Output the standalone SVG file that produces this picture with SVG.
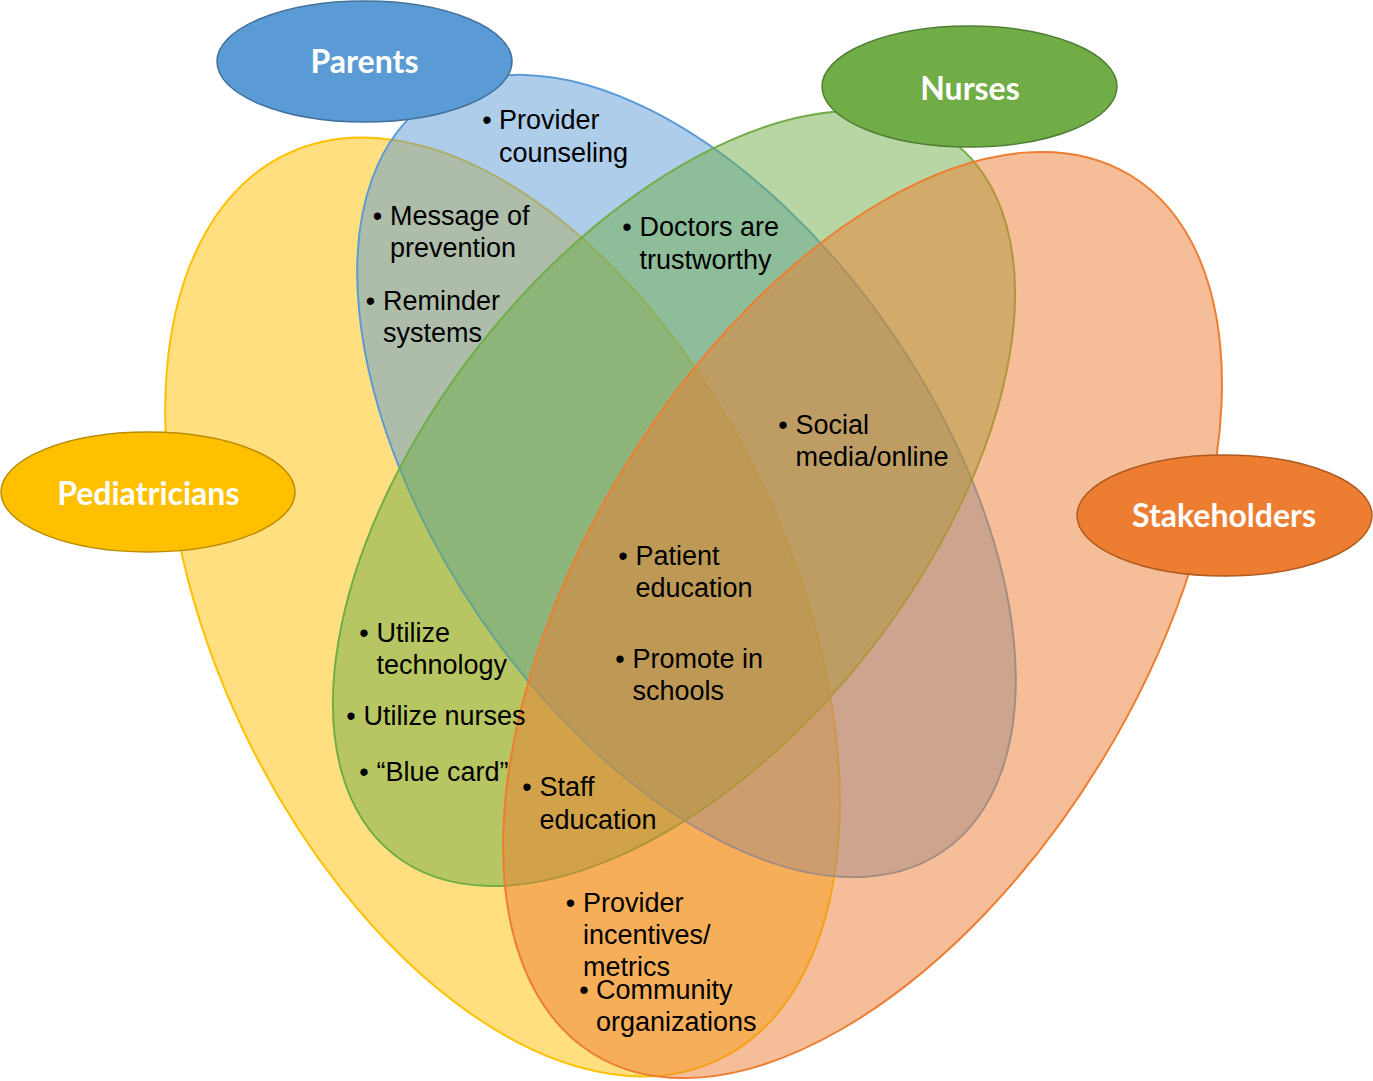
<svg xmlns="http://www.w3.org/2000/svg" width="1373" height="1081" viewBox="0 0 1373 1081">
<style>
.set{stroke-width:2}
.t{font-family:"Liberation Sans",Arial,sans-serif;font-size:27px;fill:#000}
.b{font-family:"Liberation Sans",Arial,sans-serif;font-size:27px;fill:#000;text-anchor:middle}
.lab{font-family:Lato,"Open Sans",sans-serif;font-weight:bold;font-size:32px;fill:#fff;text-anchor:middle}
.lbl{stroke-width:1.5}
</style>
<rect width="1373" height="1081" fill="#fff"/>
<g id="sets">
<g id="set-pediatricians"><ellipse class="set" cx="0" cy="0" rx="501.7" ry="287.1" transform="translate(502.5,607) rotate(64.5)" fill="#FFC000" fill-opacity="0.5" stroke="#FFC000"/></g>
<g id="set-parents"><ellipse class="set" cx="0" cy="0" rx="454.6" ry="250.4" transform="translate(686.5,476) rotate(55.7)" fill="#5B9BD5" fill-opacity="0.5" stroke="#5B9BD5"/></g>
<g id="set-nurses"><ellipse class="set" cx="0" cy="0" rx="452.9" ry="247.6" transform="translate(674,498.5) rotate(-51.8)" fill="#70AD47" fill-opacity="0.5" stroke="#70AD47"/></g>
<g id="set-stakeholders"><ellipse class="set" cx="0" cy="0" rx="514.9" ry="280.2" transform="translate(862.5,615) rotate(-58.6)" fill="#ED7D31" fill-opacity="0.5" stroke="#ED7D31"/></g>
</g>
<g id="connectors"></g>
<g id="items">
<g id="item-provider-counseling"><text class="b" x="487" y="129">•</text><text class="t" x="499" y="129">Provider</text><text class="t" x="499" y="161.5">counseling</text></g>
<g id="item-message"><text class="b" x="377.5" y="225">•</text><text class="t" x="390" y="225">Message of</text><text class="t" x="390" y="257">prevention</text></g>
<g id="item-reminder"><text class="b" x="370.5" y="310">•</text><text class="t" x="383" y="310">Reminder</text><text class="t" x="383" y="342">systems</text></g>
<g id="item-doctors"><text class="b" x="627" y="236">•</text><text class="t" x="639.5" y="236">Doctors are</text><text class="t" x="639.5" y="268.5">trustworthy</text></g>
<g id="item-social"><text class="b" x="783" y="433.5">•</text><text class="t" x="795.5" y="433.5">Social</text><text class="t" x="795.5" y="465.5">media/online</text></g>
<g id="item-patient"><text class="b" x="623" y="564.5">•</text><text class="t" x="635.5" y="564.5">Patient</text><text class="t" x="635.5" y="597">education</text></g>
<g id="item-promote"><text class="b" x="620" y="668">•</text><text class="t" x="632.5" y="668">Promote in</text><text class="t" x="632.5" y="700">schools</text></g>
<g id="item-technology"><text class="b" x="364" y="642">•</text><text class="t" x="376.5" y="642">Utilize</text><text class="t" x="376.5" y="674">technology</text></g>
<g id="item-nurses"><text class="b" x="351" y="725">•</text><text class="t" x="363.5" y="725">Utilize nurses</text></g>
<g id="item-bluecard"><text class="b" x="364" y="781">•</text><text class="t" x="376.5" y="781">“Blue card”</text></g>
<g id="item-staff"><text class="b" x="527" y="796">•</text><text class="t" x="539.5" y="796">Staff</text><text class="t" x="539.5" y="828.5">education</text></g>
<g id="item-incentives"><text class="b" x="570.5" y="912">•</text><text class="t" x="583" y="912">Provider</text><text class="t" x="583" y="943.5">incentives/</text><text class="t" x="583" y="976">metrics</text></g>
<g id="item-community"><text class="b" x="584" y="999">•</text><text class="t" x="596" y="999">Community</text><text class="t" x="596" y="1030.5">organizations</text></g>
</g>
<g id="label-parents"><ellipse class="lbl" cx="364.5" cy="61.5" rx="147.5" ry="60.5" fill="#5B9BD5" stroke="#41719C"/><text class="lab" x="364.5" y="73">Parents</text></g>
<g id="label-nurses"><ellipse class="lbl" cx="969.5" cy="86.5" rx="147.5" ry="60.5" fill="#70AD47" stroke="#507E32"/><text class="lab" x="970" y="99.5">Nurses</text></g>
<g id="label-pediatricians"><ellipse class="lbl" cx="148" cy="492" rx="147" ry="60" fill="#FFC000" stroke="#BC8C00"/><text class="lab" x="148.3" y="504.5">Pediatricians</text></g>
<g id="label-stakeholders"><ellipse class="lbl" cx="1224.5" cy="515.5" rx="147.5" ry="60.5" fill="#ED7D31" stroke="#AE5A21"/><text class="lab" x="1224" y="527">Stakeholders</text></g>
</svg>
